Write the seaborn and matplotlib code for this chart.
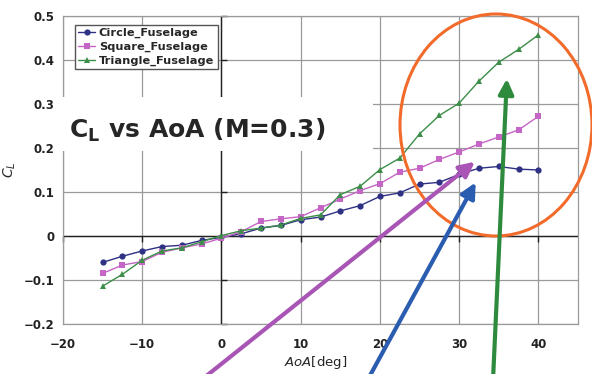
import numpy as np
import pandas as pd
import matplotlib
matplotlib.use("Agg")
import matplotlib.pyplot as plt
import seaborn as sns
from matplotlib.patches import Rectangle, Ellipse, FancyArrowPatch

# ---------------- data ----------------
aoa = [-15, -12.5, -10, -7.5, -5, -2.5, 0, 2.5, 5, 7.5, 10, 12.5, 15,
       17.5, 20, 22.5, 25, 27.5, 30, 32.5, 35, 37.5, 40]
cl_circle = [-0.060, -0.046, -0.034, -0.024, -0.021, -0.010, -0.003, 0.005,
             0.018, 0.024, 0.037, 0.043, 0.057, 0.069, 0.090, 0.098, 0.118,
             0.122, 0.140, 0.154, 0.158, 0.152, 0.150]
cl_square = [-0.085, -0.066, -0.058, -0.037, -0.027, -0.018, -0.005, 0.010,
             0.033, 0.039, 0.044, 0.064, 0.084, 0.103, 0.119, 0.145, 0.154,
             0.174, 0.191, 0.209, 0.225, 0.241, 0.272]
cl_triangle = [-0.114, -0.087, -0.055, -0.034, -0.027, -0.013, 0.001, 0.012,
               0.018, 0.025, 0.040, 0.048, 0.094, 0.113, 0.151, 0.177, 0.232,
               0.274, 0.302, 0.352, 0.395, 0.424, 0.457]
series_names = ["Circle_Fuselage", "Square_Fuselage", "Triangle_Fuselage"]
x_ticks = [-20, -10, 0, 10, 20, 30, 40]
y_ticks = [-0.2, -0.1, 0, 0.1, 0.2, 0.3, 0.4, 0.5]

COLORS = {"Circle_Fuselage": "#2E3184",
          "Square_Fuselage": "#C565C5",
          "Triangle_Fuselage": "#3C8E48"}
MARKERS = {"Circle_Fuselage": "o",
           "Square_Fuselage": "s",
           "Triangle_Fuselage": "^"}

df = pd.DataFrame({
    "AoA": aoa * 3,
    "CL": cl_circle + cl_square + cl_triangle,
    "case": np.repeat(series_names, len(aoa)),
})

W, H = 592, 374
fig = plt.figure(figsize=(W / 100, H / 100), dpi=100)
sns.set_style("white")
ax = fig.add_axes([63 / W, 1 - 324 / H, 515 / W, 308 / H])

sns.lineplot(data=df, x="AoA", y="CL", hue="case", style="case",
             palette=COLORS, markers=MARKERS, dashes=False, ax=ax,
             linewidth=1.0, markersize=4.5, markeredgewidth=0, zorder=3)

ax.set_xlim(-20, 45)
ax.set_ylim(-0.2, 0.5)
ax.set_xticks(x_ticks)
ax.set_yticks(y_ticks)
ax.set_xticklabels([str(t) if t >= 0 else "\u2212" + str(-t) for t in x_ticks])
ax.set_yticklabels(["0" if t == 0 else (f"{t:.1f}" if t > 0 else "\u2212" + f"{-t:.1f}")
                    for t in y_ticks])
ax.tick_params(axis="x", length=0, labelsize=8.5, pad=10)
ax.tick_params(axis="y", length=0, labelsize=8.5, pad=6)
for lab in ax.get_xticklabels() + ax.get_yticklabels():
    lab.set_fontweight("bold")
    lab.set_color("#222222")
ax.grid(True, color="#9a9a9a", linewidth=0.9)
for sp in ax.spines.values():
    sp.set_color("#9a9a9a")
    sp.set_linewidth(0.9)

# axes crossing at zero (excel style)
ax.axhline(0, color="#222222", linewidth=1.0, zorder=2)
ax.axvline(0, color="#222222", linewidth=1.0, zorder=2)
ax.plot(np.zeros(len(y_ticks)), y_ticks, linestyle="none", marker=1,
        markersize=4, color="#222222", clip_on=False, zorder=2)
ax.plot(x_ticks, np.zeros(len(x_ticks)), linestyle="none", marker=3,
        markersize=4, color="#222222", clip_on=False, zorder=2)

ax.set_xlabel(r"$AoA$[deg]", fontsize=9.5)
ax.xaxis.set_label_coords((316 - 63) / 515, -(354 - 324) / 308)
ax.set_ylabel(r"$C_L$", fontsize=10)
ax.yaxis.set_label_coords(-(63 - 18) / 515, (324 - 170) / 308)

handles, labels = ax.get_legend_handles_labels()
leg = ax.legend(handles, labels, loc="upper left",
                bbox_to_anchor=(0.012, 0.99), fontsize=8.2,
                handlelength=1.5, handletextpad=0.3, labelspacing=0.3,
                borderpad=0.3, fancybox=False, edgecolor="#555555",
                framealpha=1)
for t in leg.get_texts():
    t.set_fontweight("bold")


def fx(px):
    return px / W


def fy(py):
    return 1 - py / H


# white label box with the big caption
fig.add_artist(Rectangle((fx(60), fy(151)), fx(373) - fx(60), fy(97) - fy(151),
                         transform=fig.transFigure, facecolor="white",
                         edgecolor="none", zorder=5))
fig.text(fx(69), fy(130), r"C$_{\mathregular{L}}$ vs AoA (M=0.3)",
         fontsize=18, fontweight="bold", va="center", ha="left", zorder=6)

# orange ellipse
fig.add_artist(Ellipse((fx(496), fy(125)), 192 / W, 222 / H,
                       transform=fig.transFigure, facecolor="none",
                       edgecolor="#F26B2A", linewidth=2.2, zorder=7))

# arrows
arrows = [((200, 381), (477, 160), "#A855B5"),
          ((367, 381), (477, 180), "#2A5CB0"),
          ((493, 380), (507, 76), "#2E8B3E")]
for (x0, y0), (x1, y1), c in arrows:
    fig.add_artist(FancyArrowPatch((fx(x0), fy(y0)), (fx(x1), fy(y1)),
                                   transform=fig.transFigure,
                                   arrowstyle="-|>,head_length=1.0,head_width=0.5",
                                   mutation_scale=9, color=c, linewidth=3.0,
                                   shrinkA=0, shrinkB=2, zorder=8))

fig.savefig("out.png", dpi=100)
